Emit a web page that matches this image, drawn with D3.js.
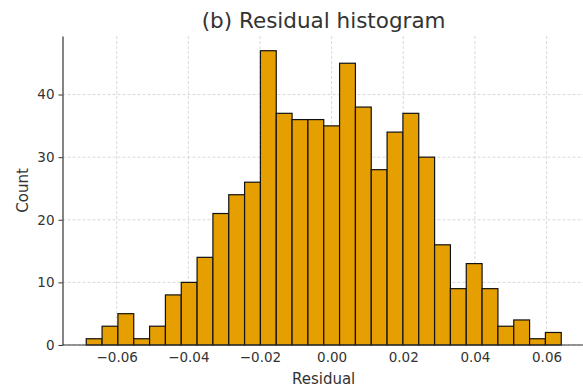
<!DOCTYPE html>
<html>
<head>
<meta charset="utf-8">
<script src="https://cdn.jsdelivr.net/npm/d3@7"></script>
<style>
  body { margin: 0; background: #fff; }
  svg text { font-family: "DejaVu Sans", sans-serif; fill: #333; }
</style>
</head>
<body>
<script>
// histogram data
var binStart = -0.0685,
    binWidth = 0.00442;
var counts = [1, 3, 5, 1, 3, 8, 10, 14, 21, 24, 26, 47, 37, 36, 36, 35, 45, 38, 28, 34, 37, 30, 16, 9, 13, 9, 3, 4, 1, 2];
var xTicks = [-0.06, -0.04, -0.02, 0.00, 0.02, 0.04, 0.06];
var yTicks = [0, 10, 20, 30, 40];
var title = "(b) Residual histogram",
    xLabel = "Residual",
    yLabel = "Count";

var bins = counts.map(function(c, i) {
  return { x0: binStart + i * binWidth, x1: binStart + (i + 1) * binWidth, n: c };
});

// dimensions
var W = 583, H = 389;
var margin = {top: 36, right: -2, bottom: 44, left: 62.5},
    width = W - margin.left - margin.right,
    height = H - margin.top - margin.bottom;

var lo = bins[0].x0, hi = bins[bins.length - 1].x1, pad = (hi - lo) * 0.05;
var x = d3.scaleLinear().domain([lo - pad, hi + pad]).range([0, width]);
var y = d3.scaleLinear().domain([0, d3.max(counts) * 1.05]).range([height, 0]);

var svg = d3.select("body").append("svg")
    .attr("width", W)
    .attr("height", H)
  .append("g")
    .attr("transform", "translate(" + margin.left + "," + margin.top + ")");

// grid
svg.append("g").selectAll("line.vx")
    .data(xTicks)
  .enter().append("line")
    .attr("x1", d => x(d)).attr("x2", d => x(d))
    .attr("y1", 0).attr("y2", height)
    .attr("stroke", "#d0d0d0").attr("stroke-width", 0.8)
    .attr("stroke-dasharray", "3,2");
svg.append("g").selectAll("line.hy")
    .data(yTicks)
  .enter().append("line")
    .attr("x1", 0).attr("x2", width)
    .attr("y1", d => y(d)).attr("y2", d => y(d))
    .attr("stroke", "#d0d0d0").attr("stroke-width", 0.8)
    .attr("stroke-dasharray", "3,2");

// bars
svg.selectAll("rect.bar")
    .data(bins)
  .enter().append("rect")
    .attr("class", "bar")
    .attr("x", d => x(d.x0))
    .attr("width", d => x(d.x1) - x(d.x0))
    .attr("y", d => y(d.n))
    .attr("height", d => y(0) - y(d.n))
    .attr("fill", "#E69F00")
    .attr("stroke", "#111")
    .attr("stroke-width", 1.2);

// axes
var fmt = d3.format(".2f");
var xAxis = svg.append("g")
    .attr("transform", "translate(0," + height + ")")
    .call(d3.axisBottom(x).tickValues(xTicks).tickSize(0).tickPadding(7)
      .tickFormat(d => fmt(d).replace("-", "\u2212")));
var yAxis = svg.append("g")
    .call(d3.axisLeft(y).tickValues(yTicks).tickSizeInner(4).tickSizeOuter(0).tickPadding(4));

[xAxis, yAxis].forEach(function(a) {
  a.select(".domain").attr("stroke", "#333").attr("stroke-width", 1.2);
  a.selectAll(".tick line").attr("stroke", "#333");
  a.selectAll("text").style("font-size", "13.5px").attr("fill", "#333");
});
xAxis.select(".domain").attr("d", "M0,0H" + (width + 4));

// labels
svg.append("text")
    .attr("x", x(0) - 8)
    .attr("y", -8)
    .style("text-anchor", "middle")
    .style("font-size", "21.5px")
    .text(title);

svg.append("text")
    .attr("x", x(0) - 8)
    .attr("y", height + 39)
    .style("text-anchor", "middle")
    .style("font-size", "15px")
    .text(xLabel);

svg.append("text")
    .attr("transform", "rotate(-90)")
    .attr("x", -height / 2)
    .attr("y", -35)
    .style("text-anchor", "middle")
    .style("font-size", "15px")
    .text(yLabel);
</script>
</body>
</html>
